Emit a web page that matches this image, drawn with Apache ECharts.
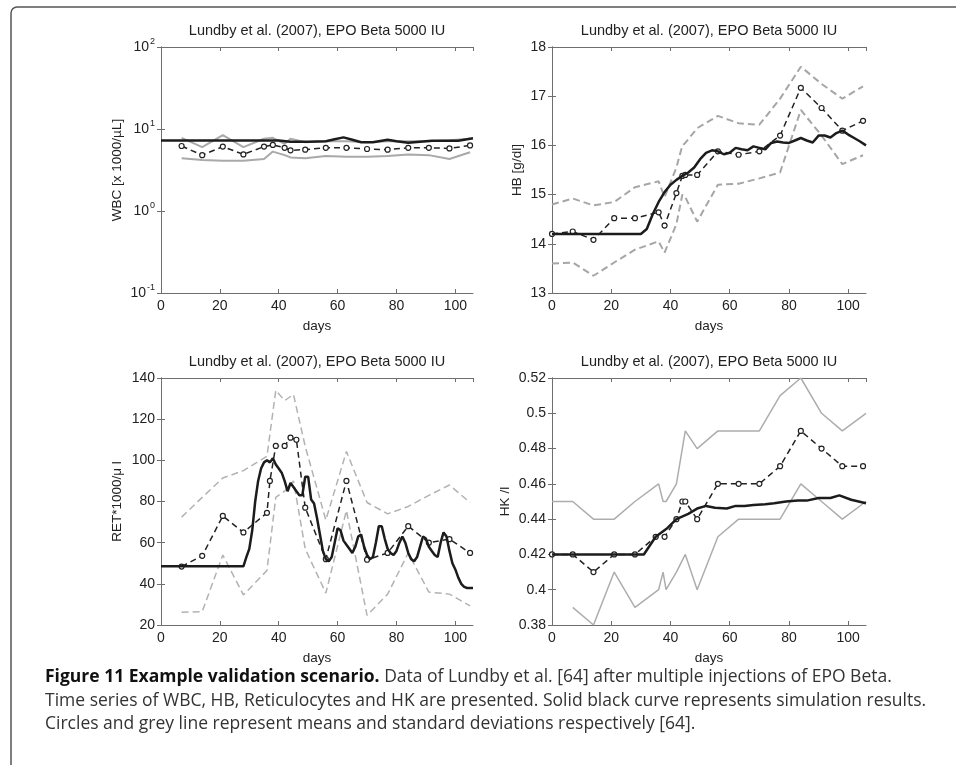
<!DOCTYPE html>
<html>
<head>
<meta charset="utf-8">
<script src="https://cdn.jsdelivr.net/npm/echarts@6/dist/echarts.min.js"></script>
<style>
html,body{margin:0;padding:0;background:#fff;}
#c{width:956px;height:765px;}
</style>
</head>
<body>
<div id="c"></div>
<script>
// ---------------- DATA ----------------
const titleText = 'Lundby et al. (2007), EPO Beta 5000 IU';
const xTicks = [0, 20, 40, 60, 80, 100];

// WBC (log axis)
const wbcSimDays = [0, 40, 44, 50, 56, 59, 62, 65, 68, 72, 77, 80, 84, 88, 92, 97, 101, 106];
const wbcSim = [7.25, 7.25, 7.0, 7.0, 7.1, 7.5, 7.9, 7.4, 6.9, 6.9, 7.4, 7.1, 6.8, 7.0, 7.2, 7.2, 7.2, 7.7];
const wbcDays = [7, 14, 21, 28, 35, 38, 42, 44, 49, 56, 63, 70, 77, 84, 91, 98, 105];
const wbcMean = [6.2, 4.8, 6.1, 4.9, 6.1, 6.4, 5.9, 5.5, 5.6, 5.9, 5.9, 5.7, 5.6, 5.9, 5.9, 5.8, 6.3];
const wbcUpper = [7.8, 6.0, 8.4, 6.0, 7.6, 7.8, 6.6, 7.6, 6.9, 7.1, 7.1, 6.9, 7.1, 7.1, 7.1, 7.3, 7.6];
const wbcLower = [4.4, 4.2, 4.1, 4.1, 4.3, 5.3, 4.8, 4.5, 4.4, 4.7, 4.6, 4.6, 4.7, 4.9, 4.8, 4.3, 5.2];

// HB
const hbSimDays = [0, 30, 32, 34, 36, 38, 40, 42, 44, 46, 48, 50, 52, 54, 56, 58, 60, 62, 64, 66, 68, 70, 72, 74, 76, 78, 80, 82, 84, 86, 88, 90, 92, 94, 96, 98, 100, 102, 104, 106];
const hbSim = [14.2, 14.2, 14.3, 14.6, 14.85, 15.05, 15.2, 15.3, 15.38, 15.45, 15.55, 15.72, 15.85, 15.9, 15.88, 15.82, 15.85, 15.95, 15.92, 15.9, 15.98, 15.95, 15.92, 16.05, 16.08, 16.06, 16.05, 16.1, 16.15, 16.1, 16.06, 16.2, 16.2, 16.16, 16.25, 16.3, 16.22, 16.15, 16.08, 16.0];
const hbDays = [0, 7, 14, 21, 28, 36, 38, 42, 44, 45, 49, 56, 63, 70, 77, 84, 91, 98, 105];
const hbMean = [14.2, 14.25, 14.08, 14.52, 14.52, 14.64, 14.37, 15.03, 15.38, 15.4, 15.4, 15.88, 15.81, 15.88, 16.2, 17.17, 16.76, 16.3, 16.5];
const hbUpper = [14.8, 14.92, 14.78, 14.85, 15.15, 15.27, 14.95, 15.55, 16.0, 16.05, 16.35, 16.6, 16.45, 16.42, 16.95, 17.6, 17.25, 16.95, 17.2];
const hbLower = [13.6, 13.62, 13.35, 13.62, 13.88, 14.05, 13.82, 14.4, 15.0, 14.95, 14.45, 15.2, 15.22, 15.33, 15.45, 16.72, 16.2, 15.62, 15.8];

// RET
const retSimDays = [0, 28, 29, 30, 31, 32, 33, 34, 35, 36, 37, 38, 39, 40, 41, 42, 43, 44, 45, 46, 47, 48, 49, 50, 51, 52, 53, 54, 55, 56, 57, 58, 59, 60, 61, 62, 63, 64, 65, 66, 67, 68, 69, 70, 71, 72, 73, 74, 75, 76, 77, 78, 79, 80, 81, 82, 83, 84, 85, 86, 87, 88, 89, 90, 91, 92, 93, 94, 95, 96, 97, 98, 99, 100, 101, 102, 103, 104, 105, 106];
const retSim = [48.5, 48.5, 53, 57, 66, 80, 90, 96, 99, 100, 99, 101, 98, 96, 94, 90, 85, 89, 87, 85, 83, 83, 92, 92, 81, 79, 72, 64, 56, 52, 51, 53, 60, 67, 66, 61, 59, 57, 55, 58, 63, 64, 58, 54, 52, 53, 60, 68, 68, 62, 57, 55, 54, 56, 60, 63, 60, 55, 52, 51, 53, 58, 63, 62, 58, 56, 54, 53, 60, 65, 63, 56, 50, 47, 43, 40, 38.5, 38, 38, 38];
const retDays = [7, 14, 21, 28, 36, 37, 39, 42, 44, 46, 49, 56, 63, 70, 77, 84, 91, 98, 105];
const retMean = [48.4, 53.6, 73, 65, 74.5, 90, 107, 107, 111, 110, 77, 52, 90, 51.7, 55, 68, 60, 61.7, 55];
const retSdDays = [7, 14, 21, 28, 36, 39, 42, 45, 49, 56, 63, 70, 77, 84, 91, 98, 105];
const retUpper = [72.4, 82, 91.4, 95, 102, 134, 129, 132, 106.8, 71, 104.3, 79.5, 74, 77.6, 83, 88, 79.5];
const retLower = [26.2, 26.5, 54, 34.6, 46.5, 82, 85, 90, 57, 35.5, 75.6, 24.7, 35, 55, 36, 35, 29.3];

// HK
const hkSimDays = [0, 31, 35, 39, 42, 46, 49, 52, 55, 59, 62, 65, 68, 72, 75, 79, 83, 86, 90, 94, 97, 101, 106];
const hkSim = [0.42, 0.42, 0.43, 0.435, 0.44, 0.443, 0.446, 0.4475, 0.4465, 0.446, 0.4475, 0.4475, 0.448, 0.4485, 0.449, 0.45, 0.4505, 0.4505, 0.452, 0.452, 0.4535, 0.451, 0.449];
const hkDays = [0, 7, 14, 21, 28, 35, 38, 42, 44, 45, 49, 56, 63, 70, 77, 84, 91, 98, 105];
const hkMean = [0.42, 0.42, 0.41, 0.42, 0.42, 0.43, 0.43, 0.44, 0.45, 0.45, 0.44, 0.46, 0.46, 0.46, 0.47, 0.49, 0.48, 0.47, 0.47];
const hkSdDays = [0, 7, 14, 21, 28, 36, 37.5, 38.5, 42, 45, 49, 56, 63, 70, 77, 84, 91, 98, 106];
const hkUpper = [0.45, 0.45, 0.44, 0.44, 0.45, 0.46, 0.45, 0.45, 0.46, 0.49, 0.48, 0.49, 0.49, 0.49, 0.51, 0.52, 0.50, 0.49, 0.50];
const hkLower = [null, 0.39, 0.38, 0.41, 0.39, 0.40, 0.41, 0.40, 0.41, 0.42, 0.40, 0.43, 0.44, 0.44, 0.44, 0.46, 0.45, 0.44, 0.45];

const captionBold = 'Figure 11 Example validation scenario.';
const captionLines = [
  ' Data of Lundby et al. [64] after multiple injections of EPO Beta.',
  'Time series of WBC, HB, Reticulocytes and HK are presented. Solid black curve represents simulation results.',
  'Circles and grey line represent means and standard deviations respectively [64].'
];

// ---------------- LAYOUT ----------------
const FONT = 'Liberation Sans';
const grids = [
  {left: 161, top: 47, width: 312, height: 246},
  {left: 552, top: 47, width: 314, height: 246},
  {left: 161, top: 378, width: 312, height: 247},
  {left: 552, top: 378, width: 314, height: 247}
];
const panels = [
  {yName: 'WBC [x 1000/µL]', nameGap: 37, log: true, min: 0.1, max: 100,
   sim: [wbcSimDays, wbcSim], mean: [wbcDays, wbcMean], up: [wbcDays, wbcUpper], lo: [wbcDays, wbcLower],
   sdType: 'solid', sdColor: '#a9a9a9', sdWidth: 2},
  {yName: 'HB [g/dl]', nameGap: 28, min: 13, max: 18, interval: 1,
   sim: [hbSimDays, hbSim], mean: [hbDays, hbMean], up: [hbDays, hbUpper], lo: [hbDays, hbLower],
   sdType: [7, 4], sdColor: '#a6a6a6', sdWidth: 2},
  {yName: 'RET*1000/\u03bc l', nameGap: 37, min: 20, max: 140, interval: 20,
   sim: [retSimDays, retSim], mean: [retDays, retMean], up: [retSdDays, retUpper], lo: [retSdDays, retLower],
   sdType: [7, 4], sdColor: '#b2b2b2', sdWidth: 1.5},
  {yName: 'HK /l', nameGap: 40, min: 0.38, max: 0.52, interval: 0.02,
   sim: [hkSimDays, hkSim], mean: [hkDays, hkMean], up: [hkSdDays, hkUpper], lo: [hkSdDays, hkLower],
   sdType: 'solid', sdColor: '#adadad', sdWidth: 1.5}
];

function zip(xs, ys) { return xs.map((x, i) => [x, ys[i]]); }

const AX = '#6e6e6e';
const TICKFS = 14;
const xAxes = [], yAxes = [], series = [], graphics = [];
grids.forEach((g, i) => {
  const p = panels[i];
  const base = {
    type: 'value', gridIndex: i, min: 0, max: 106, interval: 20,
    axisLine: {show: true, lineStyle: {color: AX, width: 1}},
    axisTick: {show: true, inside: true, length: 4, lineStyle: {color: AX}},
    splitLine: {show: false}
  };
  xAxes.push(Object.assign({}, base, {
    position: 'bottom',
    name: 'days', nameLocation: 'middle', nameGap: 26,
    nameTextStyle: {fontFamily: FONT, fontSize: 13.5, color: '#222'},
    axisLabel: {show: true, showMaxLabel: false, margin: 6, fontFamily: FONT, fontSize: TICKFS, color: '#222',
      formatter: v => (xTicks.indexOf(v) >= 0 ? String(v) : '')}
  }));
  xAxes.push(Object.assign({}, base, {position: 'top', axisLabel: {show: false}}));

  let ybase;
  if (p.log) {
    ybase = {type: 'log', logBase: 10, min: p.min, max: p.max, splitNumber: 3};
  } else {
    ybase = {type: 'value', min: p.min, max: p.max, interval: p.interval};
  }
  ybase = Object.assign(ybase, {
    gridIndex: i,
    axisLine: {show: true, lineStyle: {color: AX, width: 1}},
    axisTick: {show: true, inside: true, length: 4, lineStyle: {color: AX}},
    splitLine: {show: false}
  });
  const lbl = {show: true, margin: 6, fontFamily: FONT, fontSize: TICKFS, color: '#222'};
  if (p.log) {
    lbl.formatter = v => '{b|10}{s|' + Math.round(Math.log10(v)) + '}';
    lbl.rich = {
      b: {fontFamily: FONT, fontSize: TICKFS, color: '#222'},
      s: {fontFamily: FONT, fontSize: 9, color: '#222', verticalAlign: 'top', padding: [0, 0, 10, 1]}
    };
  }
  yAxes.push(Object.assign({}, ybase, {
    position: 'left',
    name: p.yName, nameLocation: 'middle', nameGap: p.nameGap, nameRotate: 90,
    nameTextStyle: {fontFamily: FONT, fontSize: 13.5, color: '#222'},
    axisLabel: lbl
  }));
  yAxes.push(Object.assign({}, ybase, {position: 'right', axisLabel: {show: false}}));

  const xi = 2 * i, yi = 2 * i;
  const sdStyle = {color: p.sdColor, width: p.sdWidth, type: p.sdType};
  series.push({type: 'line', xAxisIndex: xi, yAxisIndex: yi, data: zip(p.up[0], p.up[1]),
    showSymbol: false, symbol: 'none', lineStyle: sdStyle, z: 2, silent: true, animation: false});
  series.push({type: 'line', xAxisIndex: xi, yAxisIndex: yi, data: zip(p.lo[0], p.lo[1]),
    showSymbol: false, symbol: 'none', lineStyle: sdStyle, z: 2, silent: true, animation: false});
  series.push({type: 'line', xAxisIndex: xi, yAxisIndex: yi, data: zip(p.mean[0], p.mean[1]),
    symbol: 'circle', symbolSize: 5, showSymbol: true,
    itemStyle: {color: '#fff', borderColor: '#222', borderWidth: 1.2},
    lineStyle: {color: '#222', width: 1.5, type: [6, 4]}, z: 3, silent: true, animation: false});
  series.push({type: 'line', xAxisIndex: xi, yAxisIndex: yi, data: zip(p.sim[0], p.sim[1]),
    symbol: 'none', showSymbol: false,
    lineStyle: {color: '#1c1c1c', width: 2.5}, z: 4, silent: true, animation: false});

  graphics.push({type: 'text', z: 10, style: {
    text: titleText, x: g.left + g.width / 2, y: g.top - 16,
    textAlign: 'center', textVerticalAlign: 'middle',
    font: '14.5px ' + FONT, fill: '#222'}});
});

// outer frame
graphics.push({type: 'rect', z: 0, shape: {x: 11, y: 7, width: 1000, height: 900, r: [6, 0, 0, 0]},
  style: {fill: 'none', stroke: '#555', lineWidth: 1.5}});

// caption
const CF = 'Open Sans';
const CS = 17.5;
graphics.push({type: 'text', z: 10, style: {
  text: '{b|' + captionBold + '}{r|' + captionLines[0] + '}', x: 45, y: 677,
  textVerticalAlign: 'middle',
  rich: {b: {font: 'bold ' + CS + 'px ' + CF, fill: '#111'}, r: {font: CS + 'px ' + CF, fill: '#333'}}
}});
graphics.push({type: 'text', z: 10, style: {text: captionLines[1], x: 45, y: 701, textVerticalAlign: 'middle', font: CS + 'px ' + CF, fill: '#333'}});
graphics.push({type: 'text', z: 10, style: {text: captionLines[2], x: 45, y: 724, textVerticalAlign: 'middle', font: CS + 'px ' + CF, fill: '#333'}});

const chart = echarts.init(document.getElementById('c'), null, {renderer: 'canvas'});
chart.setOption({
  animation: false,
  backgroundColor: '#fff',
  grid: grids.map(g => Object.assign({containLabel: false}, g)),
  xAxis: xAxes,
  yAxis: yAxes,
  series: series,
  graphic: graphics
});
</script>
</body>
</html>
